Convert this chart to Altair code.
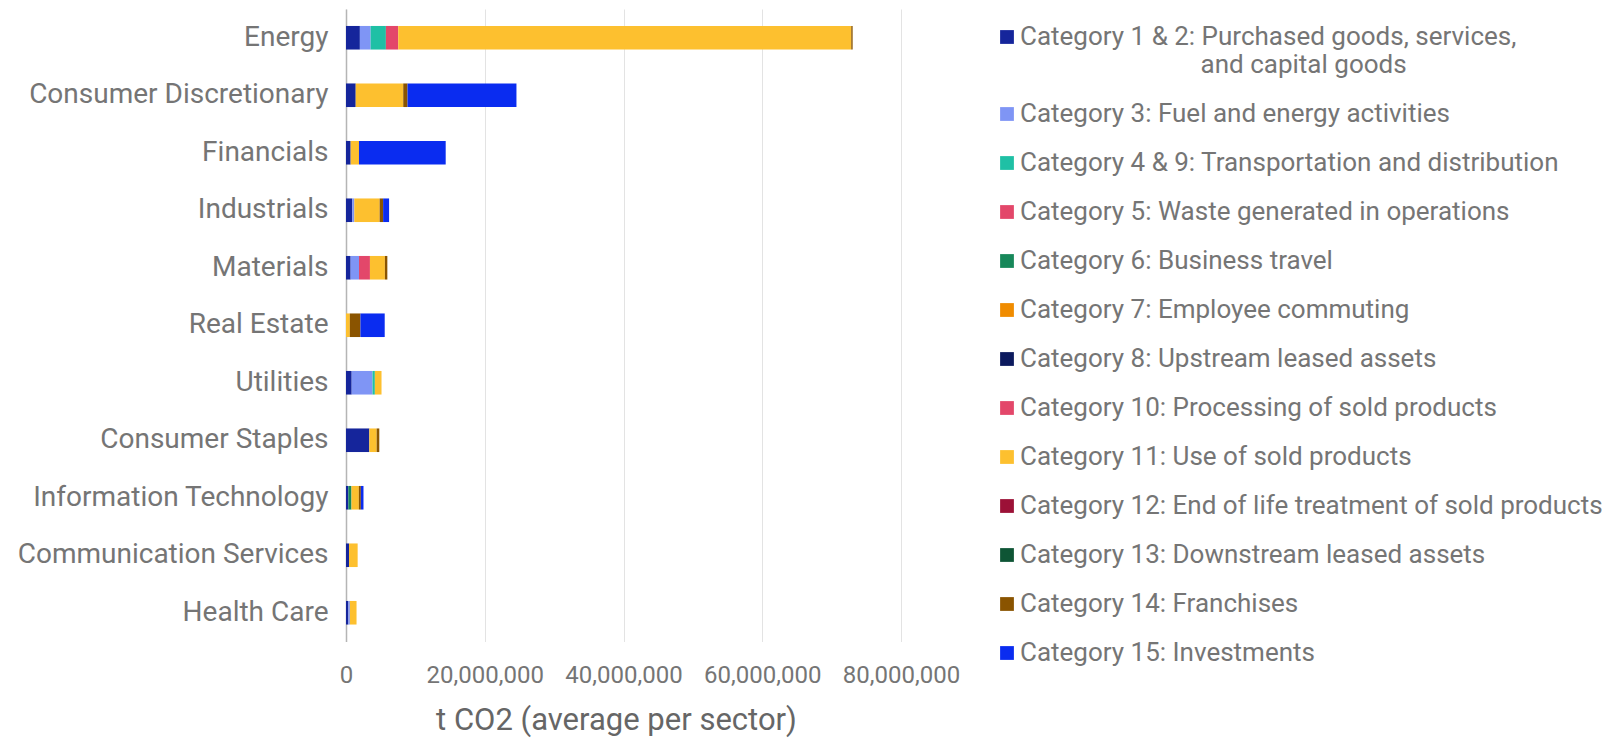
import altair as alt
import pandas as pd

sectors = ["Energy", "Consumer Discretionary", "Financials", "Industrials", "Materials",
           "Real Estate", "Utilities", "Consumer Staples", "Information Technology",
           "Communication Services", "Health Care"]

categories = [
    "Category 1 & 2: Purchased goods, services, and capital goods",
    "Category 3: Fuel and energy activities",
    "Category 4 & 9: Transportation and distribution",
    "Category 5: Waste generated in operations",
    "Category 6: Business travel",
    "Category 7: Employee commuting",
    "Category 8: Upstream leased assets",
    "Category 10: Processing of sold products",
    "Category 11: Use of sold products",
    "Category 12: End of life treatment of sold products",
    "Category 13: Downstream leased assets",
    "Category 14: Franchises",
    "Category 15: Investments",
]

colors = ["#15259b", "#7f95f5", "#1fc0a5", "#e3476a", "#17885a", "#f08c00", "#0c1a5e",
          "#e3476a", "#fdc02f", "#9c1137", "#0e5535", "#8a5400", "#0a2cf0"]

# values in million t CO2, one entry per sector (same order as `sectors`)
cat_1_2 = [2.0, 1.4, 0.67, 0.9, 0.67, 0.0, 0.82, 3.36, 0.34, 0.43, 0.34]
cat_3 = [1.55, 0.0, 0.0, 0.3, 1.2, 0.0, 3.0, 0.0, 0.0, 0.0, 0.22]
cat_4_9 = [2.2, 0.0, 0.0, 0.0, 0.0, 0.0, 0.34, 0.0, 0.0, 0.0, 0.0]
cat_5 = [0.0, 0.0, 0.0, 0.0, 0.0, 0.0, 0.0, 0.0, 0.0, 0.0, 0.0]
cat_6 = [0.0, 0.0, 0.0, 0.0, 0.0, 0.0, 0.0, 0.0, 0.45, 0.0, 0.0]
cat_7 = [0.0, 0.0, 0.0, 0.0, 0.0, 0.0, 0.0, 0.0, 0.0, 0.0, 0.0]
cat_8 = [0.0, 0.0, 0.0, 0.0, 0.0, 0.0, 0.0, 0.0, 0.0, 0.0, 0.0]
cat_10 = [1.78, 0.0, 0.0, 0.0, 1.58, 0.0, 0.0, 0.0, 0.0, 0.0, 0.0]
cat_11 = [65.3, 6.85, 1.2, 3.65, 2.16, 0.55, 0.96, 1.06, 1.06, 1.25, 0.96]
cat_12 = [0.0, 0.0, 0.0, 0.0, 0.0, 0.0, 0.0, 0.0, 0.0, 0.0, 0.0]
cat_13 = [0.0, 0.0, 0.0, 0.0, 0.0, 0.0, 0.0, 0.0, 0.0, 0.0, 0.0]
cat_14 = [0.2, 0.62, 0.0, 0.5, 0.35, 1.53, 0.0, 0.38, 0.29, 0.0, 0.0]
cat_15 = [0.0, 15.7, 12.5, 0.86, 0.0, 3.5, 0.0, 0.0, 0.38, 0.0, 0.0]

series = [cat_1_2, cat_3, cat_4_9, cat_5, cat_6, cat_7, cat_8, cat_10, cat_11,
          cat_12, cat_13, cat_14, cat_15]

x_ticks = [0, 20000000, 40000000, 60000000, 80000000]

rows = []
for ci, (cat, vals) in enumerate(zip(categories, series)):
    for s, v in zip(sectors, vals):
        rows.append({"sector": s, "category": cat, "cat_idx": ci, "value": v * 1e6})
df = pd.DataFrame(rows)

# zero-width space keeps the non-breaking-space indent from being trimmed
indent = "\u200b" + "\u00a0" * 28
label_expr = ("datum.label == '" + categories[0] + "' ? "
              "['Category 1 & 2: Purchased goods, services,', '" + indent + "and capital goods'] : datum.label")

FONT = "Roboto"
GRAY = "#757575"

chart = alt.Chart(df).mark_bar().encode(
    y=alt.Y("sector:N", sort=sectors, title=None,
            scale=alt.Scale(paddingInner=0.59, paddingOuter=0.295),
            axis=alt.Axis(labelFont=FONT, labelFontSize=28, labelColor=GRAY,
                          labelPadding=18, ticks=False, domain=True,
                          domainColor="#b5b5b5", domainWidth=1.5, labelLimit=400)),
    x=alt.X("value:Q", stack="zero",
            scale=alt.Scale(domain=[0, 80000000], nice=False),
            title="t CO2 (average per sector)",
            axis=alt.Axis(values=x_ticks, format=",d", labelFont=FONT, labelFontSize=24,
                          labelColor=GRAY, labelPadding=22, labelOverlap=False,
                          labelFlush=False, ticks=False, domain=False,
                          gridColor="#e3e3e3", gridWidth=1,
                          titleFont=FONT, titleFontSize=31, titleFontWeight="normal",
                          titleColor="#666666", titlePadding=18, titleX=270)),
    color=alt.Color("category:N",
                    scale=alt.Scale(domain=categories, range=colors),
                    legend=alt.Legend(orient="none", legendX=648, legendY=15, title=None,
                                      symbolType="square", symbolSize=190,
                                      symbolStrokeWidth=0, labelFont=FONT,
                                      labelFontSize=26, labelColor=GRAY, labelOffset=0,
                                      labelLimit=700, rowPadding=23, padding=0,
                                      labelExpr=label_expr)),
    order=alt.Order("cat_idx:Q", sort="ascending"),
).properties(
    width=555, height=632.5,
    autosize="none",
    padding={"left": 346, "top": 9, "right": 709, "bottom": 99.5},
).configure_view(stroke=None)

chart.save("out.html", embed_options={"renderer": "svg", "actions": False})
